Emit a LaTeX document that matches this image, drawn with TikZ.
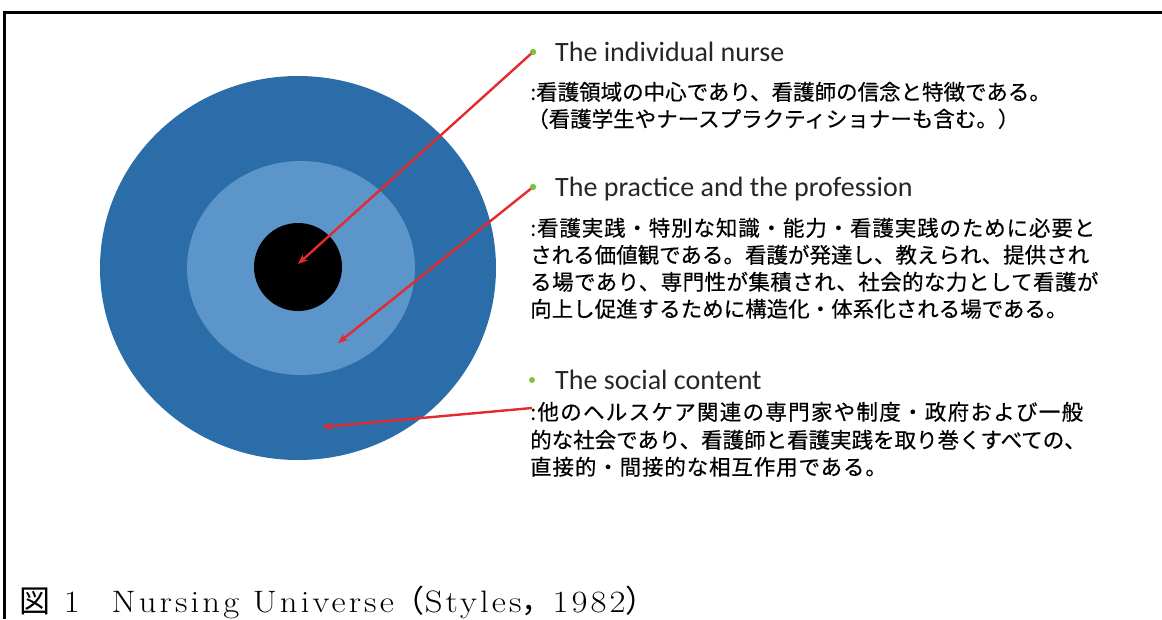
\documentclass[tikz,border=0pt]{standalone}
\usepackage{fontspec}
\setsansfont{Carlito}
\newfontfamily\cjk[FakeBold=0.4]{Noto Sans CJK JP}
\newfontfamily\capcjk{Noto Sans CJK JP}
\newfontfamily\capfont[FakeStretch=1.12,LetterSpace=10]{Latin Modern Roman}
\newcommand\spread[1]{\addfontfeature{LetterSpace=#1}}
\usetikzlibrary{arrows.meta}
\definecolor{outerblue}{HTML}{2A6DA9}
\definecolor{midblue}{HTML}{5B95C9}
\definecolor{ptrred}{HTML}{E42A2C}
\definecolor{bulgreen}{HTML}{7CC242}
\definecolor{hdrgray}{HTML}{262626}
\begin{document}
\begin{tikzpicture}[x=1pt,y=-1pt,
    ptr/.style={draw=ptrred,line width=2.4pt,-{Stealth[length=10pt,width=8pt]}},
    bul/.style={circle,fill=bulgreen,inner sep=0pt,minimum size=6pt},
    hdr/.style={anchor=base west,inner sep=0pt,text=hdrgray,font=\sffamily\fontsize{28}{32}\selectfont},
    jtxt/.style={anchor=base west,inner sep=0pt,font=\cjk\fontsize{21.5}{27}\selectfont}]
  \useasboundingbox (0,0) rectangle (1162,619);
  % frame
  \draw[line width=3pt] (4,619)--(4,12)--(1162,12);
  % the three circles
  \fill[outerblue] (298,268) ellipse [x radius=198pt,y radius=192pt];
  \fill[midblue] (301,268) ellipse [x radius=114pt,y radius=107pt];
  \fill[black] (298,267) circle [radius=44pt];
  \coordinate (tip1) at (298,264);
  \coordinate (tip2) at (338,343);
  \coordinate (tip3) at (322,427);
  % the individual nurse
  \node[bul] (b1) at (533,52) {};
  \node[hdr] (h1) at (555,61) {The individual nurse};
  \node[jtxt] (t1a) at (530,100) {:看護領域の中心であり、看護師の信念と特徴である。};
  \node[jtxt] (t1b) at (527,127) {（看護学生やナースプラクティショナーも含む。）};
  % the practice and the profession
  \node[bul] (b2) at (533,187) {};
  \node[hdr] (h2) at (555,196) {The practice and the profession};
  \node[jtxt] (t2a) at (530,236) {\spread{4}:看護実践・特別な知識・能力・看護実践のために必要と};
  \node[jtxt] (t2b) at (530,263) {される価値観である。看護が発達し、教えられ、提供され};
  \node[jtxt] (t2c) at (530,290) {\spread{2}る場であり、専門性が集積され、社会的な力として看護が};
  \node[jtxt] (t2d) at (530,317) {向上し促進するために構造化・体系化される場である。};
  % the social content
  \node[bul] (b3) at (532,380) {};
  \node[hdr] (h3) at (555,389) {The social content};
  \coordinate (c3) at (532,408);
  \node[jtxt] (t3a) at (530,420) {\spread{6}:他のヘルスケア関連の専門家や制度・政府および一般};
  \node[jtxt] (t3b) at (530,448) {的な社会であり、看護師と看護実践を取り巻くすべての、};
  \node[jtxt] (t3c) at (530,475) {\spread{4}直接的・間接的な相互作用である。};
  % pointers
  \draw[ptr] (b1.center)--(tip1);
  \draw[ptr] (b2.center)--(tip2);
  \draw[ptr] (c3)--(tip3);
  \node[bul] at (b1) {};
  \node[bul] at (b2) {};
  % caption
  \node[anchor=base west,inner sep=0pt,font=\capfont\fontsize{31}{36}\selectfont] (cap) at (19,612)
    {{\capcjk 図}\ 1\hspace{32pt}Nursing Universe{\capcjk （}Styles{\capcjk ，}1982{\capcjk ）}};
\end{tikzpicture}
\end{document}
